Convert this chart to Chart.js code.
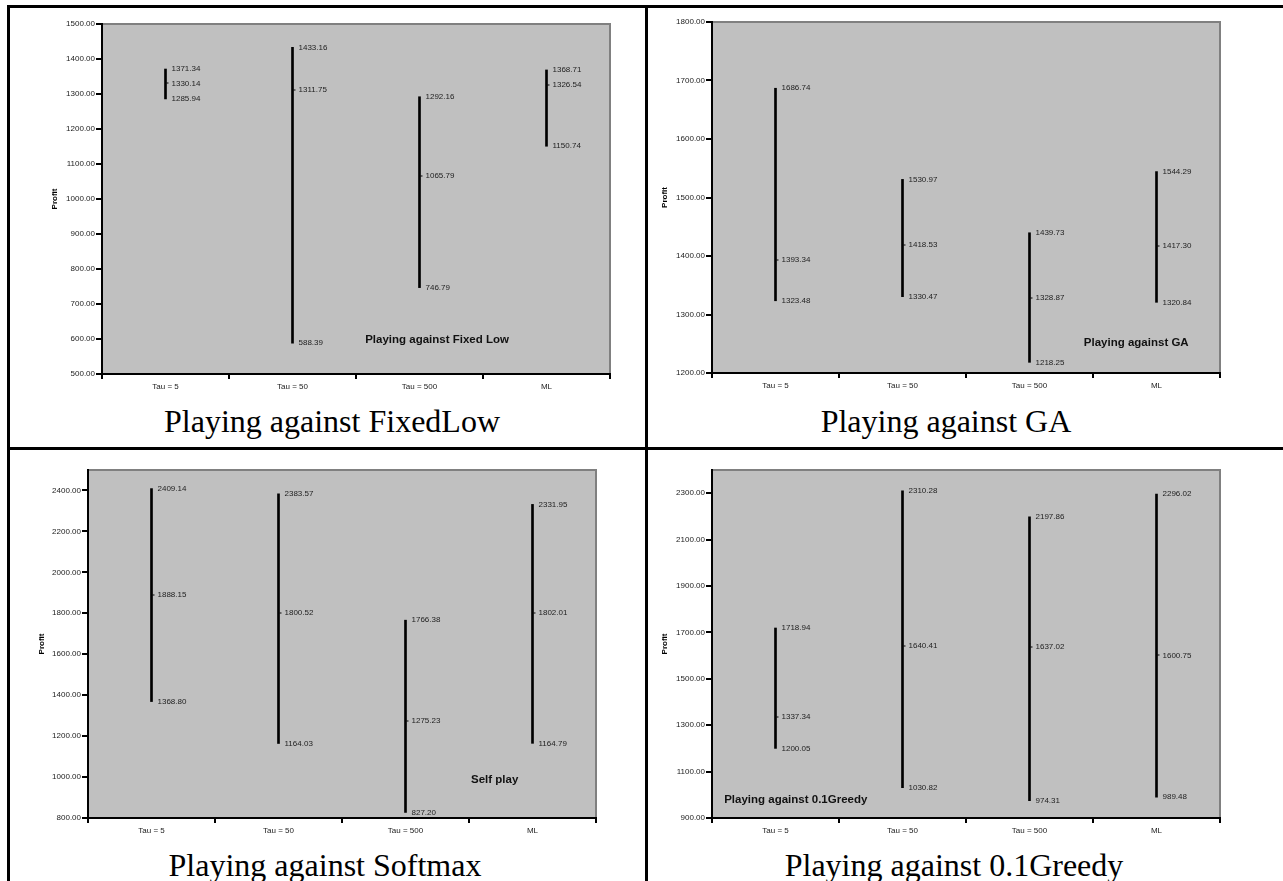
<!DOCTYPE html>
<html>
<head>
<meta charset="utf-8">
<script src="https://cdn.jsdelivr.net/npm/chart.js@4/dist/chart.umd.min.js"></script>
<style>
  html, body { margin: 0; padding: 0; background: #fff; }
  body { width: 1283px; height: 881px; position: relative; overflow: hidden; }
  .ln { position: absolute; background: #000; }
  canvas { position: absolute; }
  .cap { position: absolute; font-family: 'Liberation Serif', 'Times New Roman', serif; font-size: 32px; line-height: 36px; color: #000; text-align: center; white-space: nowrap; }
</style>
</head>
<body>
<div class="ln" style="left:7px;top:5px;width:1276px;height:3px;"></div>
<div class="ln" style="left:7px;top:5px;width:3px;height:876px;"></div>
<div class="ln" style="left:645px;top:5px;width:3px;height:876px;"></div>
<div class="ln" style="left:7px;top:447px;width:1276px;height:3px;"></div>

<canvas id="c1" width="620" height="390" style="left:12px;top:10px;"></canvas>
<canvas id="c2" width="620" height="390" style="left:656px;top:10px;"></canvas>
<canvas id="c3" width="620" height="390" style="left:12px;top:455px;"></canvas>
<canvas id="c4" width="620" height="390" style="left:656px;top:455px;"></canvas>

<div class="cap" style="left:14px;width:636px;top:403px;">Playing against FixedLow</div>
<div class="cap" style="left:646px;width:600px;top:403px;">Playing against GA</div>
<div class="cap" style="left:7px;width:636px;top:847px;">Playing against Softmax</div>
<div class="cap" style="left:648px;width:612px;top:847px;">Playing against 0.1Greedy</div>

<script>
// ---- Data ----
const categories = ['Tau = 5', 'Tau = 50', 'Tau = 500', 'ML'];

const fixedLowHigh = [1371.34, 1433.16, 1292.16, 1368.71];
const fixedLowMid  = [1330.14, 1311.75, 1065.79, 1326.54];
const fixedLowLow  = [1285.94, 588.39, 746.79, 1150.74];
const fixedLowTicks = [500, 600, 700, 800, 900, 1000, 1100, 1200, 1300, 1400, 1500];

const gaHigh = [1686.74, 1530.97, 1439.73, 1544.29];
const gaMid  = [1393.34, 1418.53, 1328.87, 1417.30];
const gaLow  = [1323.48, 1330.47, 1218.25, 1320.84];
const gaTicks = [1200, 1300, 1400, 1500, 1600, 1700, 1800];

const softmaxHigh = [2409.14, 2383.57, 1766.38, 2331.95];
const softmaxMid  = [1888.15, 1800.52, 1275.23, 1802.01];
const softmaxLow  = [1368.80, 1164.03, 827.20, 1164.79];
const softmaxTicks = [800, 1000, 1200, 1400, 1600, 1800, 2000, 2200, 2400];

const greedyHigh = [1718.94, 2310.28, 2197.86, 2296.02];
const greedyMid  = [1337.34, 1640.41, 1637.02, 1600.75];
const greedyLow  = [1200.05, 1030.82, 974.31, 989.48];
const greedyTicks = [900, 1100, 1300, 1500, 1700, 1900, 2100, 2300];

const yTitle = 'Profit';
const FONT = "'Liberation Sans', Arial, sans-serif";

// ---- Plugins ----
const plotBg = {
  id: 'plotBg',
  beforeDraw(chart) {
    const {ctx, chartArea: a} = chart;
    ctx.save();
    ctx.fillStyle = '#C0C0C0';
    ctx.fillRect(a.left, a.top, a.right - a.left, a.bottom - a.top);
    ctx.strokeStyle = '#808080';
    ctx.lineWidth = 2;
    ctx.beginPath();
    ctx.moveTo(a.left, a.top);
    ctx.lineTo(a.right, a.top);
    ctx.lineTo(a.right, a.bottom);
    ctx.stroke();
    ctx.restore();
  }
};

const hlLabels = {
  id: 'hlLabels',
  afterDatasetsDraw(chart, args, opts) {
    const {ctx, scales: {x, y}, chartArea: a} = chart;
    ctx.save();
    ctx.font = '8px ' + FONT;
    ctx.textBaseline = 'middle';
    ctx.textAlign = 'left';
    opts.high.forEach((h, i) => {
      const px = x.getPixelForValue(i);
      const yh = y.getPixelForValue(h);
      const ym = y.getPixelForValue(opts.mid[i]);
      const yl = y.getPixelForValue(opts.low[i]);
      ctx.fillStyle = '#000';
      ctx.fillRect(px + 1, Math.round(ym) - 0.5, 2, 1);
      ctx.fillStyle = '#222';
      ctx.fillText(h.toFixed(2), px + 6, yh);
      ctx.fillText(opts.mid[i].toFixed(2), px + 6, ym);
      ctx.fillText(opts.low[i].toFixed(2), px + 6, yl);
    });
    // annotation
    ctx.font = 'bold 11.5px ' + FONT;
    ctx.fillStyle = '#111';
    ctx.fillText(opts.note, a.left + opts.noteX * (a.right - a.left), a.top + opts.noteY * (a.bottom - a.top));
    ctx.restore();
  }
};

function makeChart(id, high, mid, low, ticks, yMin, yMax, geo, note) {
  const ctx = document.getElementById(id);
  return new Chart(ctx, {
    type: 'bar',
    data: {
      labels: categories,
      datasets: [{
        data: low.map((l, i) => [l, high[i]]),
        backgroundColor: '#000',
        borderWidth: 0,
        barThickness: 2
      }]
    },
    options: {
      responsive: false,
      animation: false,
      devicePixelRatio: 1,
      layout: { padding: { top: geo.padTop, right: geo.padRight, left: 0, bottom: 0 } },
      plugins: {
        legend: { display: false },
        tooltip: { enabled: false },
        hlLabels: { high, mid, low, note: note.text, noteX: note.x, noteY: note.y }
      },
      scales: {
        x: {
          type: 'category',
          grid: { offset: true, drawOnChartArea: false, drawTicks: true, tickLength: 5, color: '#000', lineWidth: 2 },
          border: { color: '#000', width: 2 },
          ticks: { font: { size: 8, family: FONT }, color: '#222', padding: 3, maxRotation: 0 },
          afterFit(s) { s.height = geo.xH; }
        },
        y: {
          min: yMin, max: yMax,
          grid: { drawOnChartArea: false, drawTicks: true, tickLength: 6, color: '#000', lineWidth: 2 },
          border: { color: '#000', width: 2 },
          ticks: { font: { size: 8, family: FONT }, color: '#222', padding: 1, autoSkip: false,
                   callback: v => Number(v).toFixed(2) },
          afterBuildTicks(s) { s.ticks = ticks.map(v => ({ value: v })); },
          title: { display: true, text: yTitle, color: '#000', font: { size: 8, weight: 'bold', family: FONT },
                   padding: { top: geo.titlePad, bottom: 0 } },
          afterFit(s) { s.width = geo.yW; }
        }
      }
    },
    plugins: [plotBg, hlLabels]
  });
}

makeChart('c1', fixedLowHigh, fixedLowMid, fixedLowLow, fixedLowTicks, 500, 1500,
  { padTop: 14, padRight: 22, yW: 90, xH: 26, titlePad: 38 },
  { text: 'Playing against Fixed Low', x: 0.518, y: 0.903 });
makeChart('c2', gaHigh, gaMid, gaLow, gaTicks, 1200, 1800,
  { padTop: 12, padRight: 56, yW: 56, xH: 27, titlePad: 4 },
  { text: 'Playing against GA', x: 0.732, y: 0.915 });
makeChart('c3', softmaxHigh, softmaxMid, softmaxLow, softmaxTicks, 800, 2500,
  { padTop: 15, padRight: 36, yW: 76, xH: 27, titlePad: 25 },
  { text: 'Self play', x: 0.754, y: 0.891 });
makeChart('c4', greedyHigh, greedyMid, greedyLow, greedyTicks, 900, 2400,
  { padTop: 15, padRight: 56, yW: 56, xH: 27, titlePad: 4 },
  { text: 'Playing against 0.1Greedy', x: 0.024, y: 0.948 });
</script>
</body>
</html>
